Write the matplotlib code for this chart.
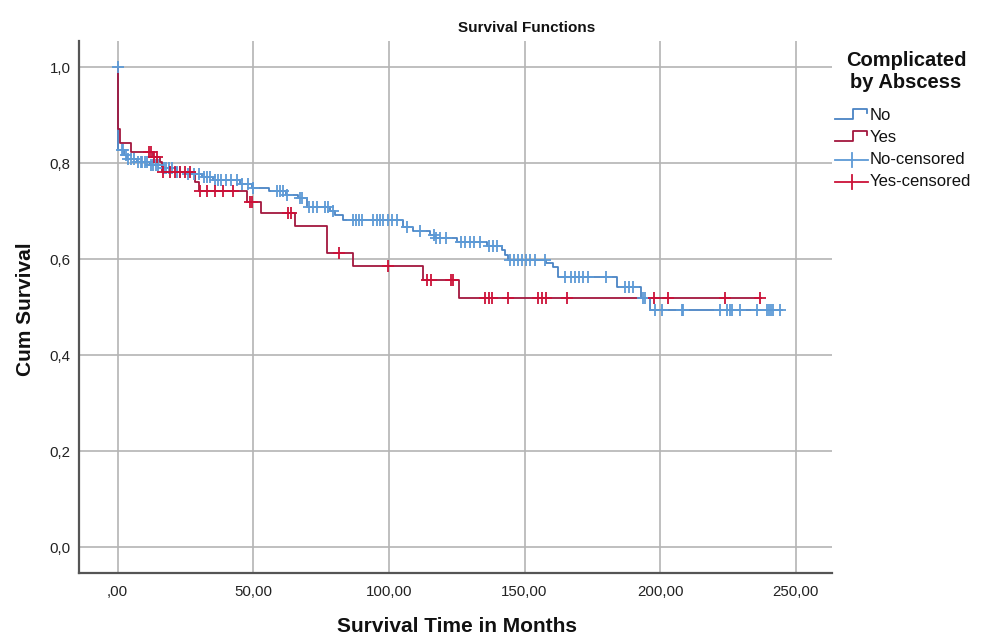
import numpy as np
import matplotlib
matplotlib.use("Agg")
import matplotlib.pyplot as plt
from matplotlib.lines import Line2D

plt.rcParams['font.family'] = ['Liberation Sans', 'DejaVu Sans']

# ---------------- data ----------------
x_ticks = [0, 50, 100, 150, 200, 250]
x_tick_labels = [",00", "50,00", "100,00", "150,00", "200,00", "250,00"]
y_ticks = [0.0, 0.2, 0.4, 0.6, 0.8, 1.0]
y_tick_labels = ["0,0", "0,2", "0,4", "0,6", "0,8", "1,0"]

# Group "No": step times and survival after each step
no_times = [0, 0.3, 2.4, 3.4, 7, 12, 16.3, 21.8, 25.5, 31, 35.3, 45, 49.5, 56, 62,
            66.5, 69.7, 78.3, 80.1, 83.2, 105.3, 109, 115, 117, 125, 136, 141.6,
            142.8, 144, 158, 160.6, 162.4, 183.9, 193, 196.2, 245]
no_surv = [1.0, 0.828, 0.817, 0.810, 0.803, 0.796, 0.790, 0.782, 0.777, 0.772, 0.765,
           0.758, 0.748, 0.742, 0.735, 0.727, 0.710, 0.700, 0.692, 0.682, 0.668, 0.660,
           0.651, 0.644, 0.637, 0.628, 0.619, 0.609, 0.599, 0.592, 0.585, 0.563,
           0.542, 0.519, 0.494, 0.494]
no_censored = [0, 1.5, 2, 3, 4, 5, 6, 7.5, 8.5, 9, 10, 11, 12.5, 13, 14, 15, 17, 18,
               19, 20, 22, 23, 26, 28, 30, 32, 33, 34, 36, 37, 38, 40, 42, 44, 46, 48,
               50, 58.7, 60, 61, 62.3, 67.2, 68, 70.5, 72, 73.5, 76.4, 77.6, 79.4,
               86.8, 88, 89, 90, 94.2, 95.5, 96.7, 98, 99.5, 101, 103, 106.5, 111.5,
               116.5, 117.5, 119, 121, 126.5, 128, 130, 131.5, 133.5, 137, 138.5, 140,
               144.5, 146, 147.5, 149, 150.5, 152, 153.8, 157.5, 165, 167, 168.5, 170,
               171.5, 173.5, 180, 187, 188.5, 190, 193.5, 194.5, 198, 200.6, 207.9,
               208.5, 222, 224.7, 225.7, 226.4, 229.4, 235.6, 239.3, 240, 240.8,
               241.5, 244]

# Group "Yes"
yes_times = [0, 0.3, 1, 4.9, 13, 15.7, 16.5, 28.5, 30, 47.6, 52.8, 65.4, 77.1, 86.9,
             112.7, 125.9, 237]
yes_surv = [1.0, 0.871, 0.842, 0.824, 0.814, 0.803, 0.782, 0.762, 0.742, 0.720, 0.696,
            0.669, 0.614, 0.587, 0.558, 0.519, 0.519]
yes_censored = [11.6, 12.5, 13.5, 14.5, 16.9, 19.2, 21.2, 23, 24.9, 26.7, 30.4, 32.9,
                35.9, 39, 42.7, 48.8, 49.5, 63, 63.8, 81.6, 99.8, 113.9, 115.5, 122.8,
                123.7, 135.4, 137, 138.1, 144, 155, 156.4, 157.9, 165.5, 197.8, 202.7,
                223.8, 236.7]

# ---------------- styles ----------------
blue_line = '#4a84c4'
blue_mark = '#5d9ad6'
red_line = '#a3173e'
red_mark = '#cc1138'


def surv_at(times, surv, pts):
    t = np.asarray(times)
    s = np.asarray(surv)
    idx = np.searchsorted(t, np.asarray(pts), side='right') - 1
    return s[idx]


fig = plt.figure(figsize=(9.88, 6.37), dpi=100)
W, H = 988, 637
ax = fig.add_axes([79 / W, 1 - 573 / H, (832 - 79) / W, (573 - 41) / H])

ax.set_xlim(-14.2, 263.3)
ax.set_ylim(-0.0535, 1.055)

ax.step(no_times, no_surv, where='post', color=blue_line, lw=1.3, zorder=3)
ax.step(yes_times, yes_surv, where='post', color=red_line, lw=1.3, zorder=3)
ax.plot(no_censored, surv_at(no_times, no_surv, no_censored), ls='none', marker='+',
        ms=8.5, mew=1.3, color=blue_mark, zorder=4)
ax.plot(yes_censored, surv_at(yes_times, yes_surv, yes_censored), ls='none', marker='+',
        ms=8.5, mew=1.3, color=red_mark, zorder=5)

ax.set_xticks(x_ticks)
ax.set_xticklabels(x_tick_labels)
ax.set_yticks(y_ticks)
ax.set_yticklabels(y_tick_labels)
ax.tick_params(length=0, labelsize=10.8, colors='#222222')
ax.tick_params(axis='x', pad=9)
ax.tick_params(axis='y', pad=6)

ax.grid(True, color='#b4b4b4', lw=1.2)
ax.set_axisbelow(True)
for side in ['top', 'right']:
    ax.spines[side].set_visible(False)
for side in ['left', 'bottom']:
    ax.spines[side].set_color('#555555')
    ax.spines[side].set_linewidth(1.6)

# titles / labels
fig.text(527 / W, 1 - 28 / H, "Survival Functions", ha='center', va='center',
         fontsize=11, fontweight='bold', color='#111111')
fig.text(457 / W, 1 - 627 / H, "Survival Time in Months", ha='center', va='center',
         fontsize=15, fontweight='bold', color='#111111')
fig.text(26 / W, 1 - 309 / H, "Cum Survival", ha='center', va='center', rotation=90,
         fontsize=15, fontweight='bold', color='#111111')

# legend (drawn manually to reproduce step-shaped symbols)
fig.text(906 / W, 1 - 61 / H, "Complicated", ha='center', va='center',
         fontsize=14.5, fontweight='bold', color='#111111')
fig.text(906 / W, 1 - 82 / H, "by Abscess", ha='center', va='center',
         fontsize=14.5, fontweight='bold', color='#111111')

legend_labels = ["No", "Yes", "No-censored", "Yes-censored"]
legend_y = [116, 138, 160, 182]
legend_colors = [blue_line, red_line, blue_mark, red_mark]


def fx(px):
    return px / W


def fy(py):
    return 1 - py / H


for i, (lab, yy, col) in enumerate(zip(legend_labels, legend_y, legend_colors)):
    if i < 2:
        xs = [835, 853, 853, 867, 867]
        ys = [yy + 3, yy + 3, yy - 7, yy - 7, yy - 3]
        fig.add_artist(Line2D([fx(v) for v in xs], [fy(v) for v in ys], color=col,
                              lw=1.3, transform=fig.transFigure))
    else:
        fig.add_artist(Line2D([fx(835), fx(868)], [fy(yy), fy(yy)], color=col, lw=1.3,
                              transform=fig.transFigure))
        fig.add_artist(Line2D([fx(852), fx(852)], [fy(yy - 7), fy(yy + 7)], color=col,
                              lw=1.3, transform=fig.transFigure))
    fig.text(fx(870), fy(yy), lab, ha='left', va='center', fontsize=12,
             color='#111111')

fig.savefig("out.png", dpi=100)
